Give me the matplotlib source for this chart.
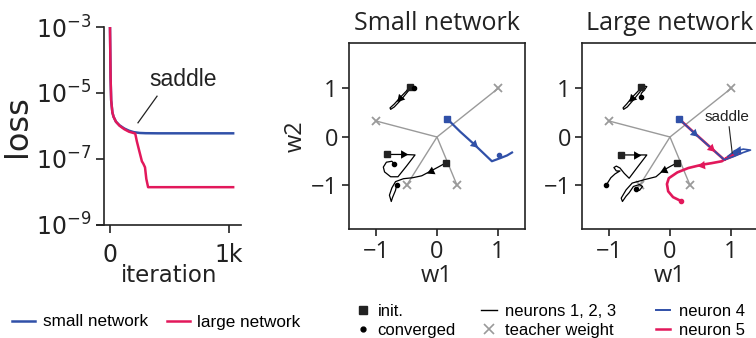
import numpy as np
import matplotlib
matplotlib.use("Agg")
import matplotlib.pyplot as plt
from matplotlib.lines import Line2D

# ---------------- data ----------------
iters_blue = [0, 5, 10, 20, 30, 50, 80, 120, 160, 200, 250, 300, 400, 600, 800, 1034]
loss_blue = [1e-3, 3e-5, 6e-6, 2.6e-6, 1.9e-6, 1.35e-6, 1.05e-6, 8.4e-7, 7.2e-7, 6.5e-7, 6.15e-7, 6.05e-7, 6.0e-7, 6.0e-7, 6.0e-7, 6.0e-7]
iters_red = [0, 5, 10, 20, 30, 50, 80, 120, 160, 200, 212, 225, 245, 268, 280, 294, 305, 320, 400, 600, 800, 1034]
loss_red = [1e-3, 3e-5, 6e-6, 2.6e-6, 1.9e-6, 1.35e-6, 1.02e-6, 8.0e-7, 6.7e-7, 6.1e-7, 5.9e-7, 3.5e-7, 1.8e-7, 8.5e-8, 7.2e-8, 5.6e-8, 2.5e-8, 1.4e-8, 1.4e-8, 1.4e-8, 1.4e-8, 1.4e-8]
loss_ticks = [1e-9, 1e-7, 1e-5, 1e-3]
loss_ticklabels = [r"$10^{-9}$", r"$10^{-7}$", r"$10^{-5}$", r"$10^{-3}$"]
iter_ticks = [0, 1000]
iter_ticklabels = ["0", "1k"]
saddle_text_loss = (613, 2.5e-5)
saddle_line_loss = [(395, 8e-6), (235, 1.25e-6)]

teacher_w1 = [1.0, -1.0, -0.5, 0.33]
teacher_w2 = [1.0, 0.33, -1.0, -1.0]
w_ticks = [-1, 0, 1]
w_ticklabels = ["\u22121", "0", "1"]

# small network trajectories
s_n1 = [(-0.45, 1.04), (-0.5, 0.95), (-0.6, 0.82), (-0.7, 0.68), (-0.77, 0.6), (-0.76, 0.57),
        (-0.7, 0.62), (-0.58, 0.78), (-0.47, 0.95), (-0.41, 1.05), (-0.37, 1.04), (-0.37, 1.01)]
s_n2 = [(-0.82, -0.36), (-0.55, -0.36), (-0.36, -0.37), (-0.5, -0.6), (-0.64, -0.82), (-0.76, -0.82),
        (-0.86, -0.72), (-0.88, -0.62), (-0.83, -0.52), (-0.74, -0.5), (-0.7, -0.56)]
s_n3 = [(0.15, -0.53), (0.02, -0.62), (-0.1, -0.7), (-0.25, -0.8), (-0.4, -0.84), (-0.55, -0.86),
        (-0.68, -0.92), (-0.74, -1.05), (-0.78, -1.2), (-0.75, -1.33), (-0.73, -1.25), (-0.68, -1.1), (-0.66, -0.98)]
s_n4 = [(0.17, 0.37), (0.38, 0.11), (0.6, -0.14), (0.9, -0.5), (1.05, -0.43), (1.15, -0.38), (1.23, -0.32)]
s_n4_end = (1.02, -0.38)

# large network trajectories
l_n1 = [(-0.47, 1.04), (-0.52, 0.95), (-0.62, 0.82), (-0.71, 0.68), (-0.77, 0.6), (-0.76, 0.57),
        (-0.7, 0.62), (-0.59, 0.78), (-0.48, 0.95), (-0.42, 1.05), (-0.38, 1.04), (-0.42, 0.97),
        (-0.47, 0.9), (-0.48, 0.83)]
l_n2 = [(-0.8, -0.37), (-0.55, -0.37), (-0.38, -0.37), (-0.52, -0.6), (-0.67, -0.85), (-0.75, -0.75),
        (-0.82, -0.64), (-0.88, -0.6), (-0.92, -0.63), (-0.88, -0.7), (-0.82, -0.7), (-0.9, -0.76),
        (-0.97, -0.84), (-1.05, -1.0)]
l_n3 = [(0.12, -0.53), (0.0, -0.61), (-0.1, -0.68), (-0.23, -0.82), (-0.42, -0.88), (-0.62, -0.95),
        (-0.72, -1.09), (-0.8, -1.26), (-0.78, -1.33), (-0.72, -1.22), (-0.67, -1.15), (-0.6, -1.02),
        (-0.5, -0.98), (-0.45, -1.02), (-0.5, -1.1), (-0.55, -1.08)]
l_n4 = [(0.15, 0.37), (0.39, 0.09), (0.89, -0.47), (1.05, -0.4), (1.2, -0.32), (1.32, -0.27),
        (1.2, -0.25), (1.05, -0.3), (0.95, -0.4)]
l_n4_end = (1.07, -0.3)
l_n5 = [(0.15, 0.37), (0.5, -0.03), (0.89, -0.47), (1.0, -0.41), (1.15, -0.33), (1.0, -0.37),
        (0.85, -0.5), (0.68, -0.54), (0.53, -0.57), (0.3, -0.64), (0.12, -0.73), (-0.02, -0.85),
        (-0.05, -0.97), (-0.03, -1.12), (0.05, -1.24), (0.18, -1.32)]
saddle_text_w = (0.93, 0.42)
saddle_line_w = [(0.97, 0.21), (1.02, -0.33)]

# arrows: position and direction
s_arrows_black = [((-0.61, 0.8), (-0.1, -0.14)), ((-0.55, -0.36), (1, 0)), ((-0.1, -0.7), (-1, -0.6))]
s_arrows_blue = [((0.6, -0.14), (1, -1.15))]
l_arrows_black = [((-0.62, 0.8), (-0.1, -0.14)), ((-0.55, -0.37), (1, 0)), ((-0.1, -0.68), (-1, -0.6))]
l_arrows_blue = [((0.39, 0.09), (1, -1.15)), ((1.12, -0.27), (-1, -0.1))]
l_arrows_red = [((0.67, -0.22), (1, -1.15)), ((0.53, -0.57), (-1, -0.2))]

BLUE = "#3050A8"
RED = "#E2185B"
GRAY = "#9A9A9A"
DARK = "#222222"

plt.rcParams["font.family"] = ["DejaVu Sans"]
plt.rcParams["mathtext.fontset"] = "dejavusans"

fig = plt.figure(figsize=(7.56, 3.38), dpi=100)
W, H = 756.0, 338.0

def fx(px):
    return px / W

def fy(py):
    return 1 - py / H

# ---------------- loss panel ----------------
ax0 = fig.add_axes([fx(97), fy(225), (241 - 97) / W, (225 - 27) / H])
ax0.plot(iters_blue, loss_blue, color=BLUE, lw=1.8)
ax0.plot(iters_red, loss_red, color=RED, lw=1.8)
ax0.set_yscale("log")
ax0.set_ylim(1e-9, 1e-3)
ax0.set_xlim(-109, 1100)
ax0.set_yticks(loss_ticks)
ax0.set_yticklabels(loss_ticklabels)
ax0.yaxis.set_minor_locator(matplotlib.ticker.NullLocator())
ax0.set_xticks(iter_ticks)
ax0.set_xticklabels(iter_ticklabels)
for s in ["top", "right"]:
    ax0.spines[s].set_visible(False)
ax0.spines["left"].set_position(("axes", 7 / 144))
for s in ["left", "bottom"]:
    ax0.spines[s].set_color(DARK)
    ax0.spines[s].set_linewidth(1.2)
ax0.tick_params(labelsize=17, length=6, width=1.2, color=DARK, labelcolor=DARK, pad=3)
ax0.tick_params(axis="x", pad=7)
ax0.set_ylabel("loss", fontsize=23, color=DARK, labelpad=2)
ax0.set_xlabel("iteration", fontsize=16.5, color=DARK, labelpad=-2)
ax0.text(saddle_text_loss[0], saddle_text_loss[1], "saddle", fontsize=16.5,
         family="Liberation Sans", color=DARK, ha="center", va="center")
ax0.plot([p[0] for p in saddle_line_loss], [p[1] for p in saddle_line_loss], color=DARK, lw=0.9)

# ---------------- weight panels ----------------
def weight_panel(rect, title, black, black_arrows, blues, blue_arrows, blue_ends,
                 reds, red_arrows, ylabel):
    ax = fig.add_axes(rect)
    ax.set_xlim(-1.443, 1.443)
    ax.set_ylim(-1.897, 1.938)
    for tx, ty in zip(teacher_w1, teacher_w2):
        ax.plot([0, tx], [0, ty], color=GRAY, lw=1.0, zorder=1)
    ax.plot(teacher_w1, teacher_w2, ls="none", marker="x", ms=5.5, mew=1.3, color=GRAY, zorder=2)
    sx = ax.bbox.width / (1.443 * 2)
    sy = ax.bbox.height / (1.938 + 1.897)

    def arrows(lst, color):
        for (p, d) in lst:
            ang = np.degrees(np.arctan2(d[1] * sy, d[0] * sx)) - 90
            ax.plot([p[0]], [p[1]], marker=(3, 0, ang), ms=7, color=color, mew=0, zorder=6)

    for r in reds:
        ax.plot([q[0] for q in r], [q[1] for q in r], color=RED, lw=1.9, zorder=3)
        ax.plot(r[-1][0], r[-1][1], "o", ms=3, color=RED, zorder=6)
    arrows(red_arrows, RED)
    for b in blues:
        ax.plot([q[0] for q in b], [q[1] for q in b], color=BLUE, lw=1.2 if reds else 1.6, zorder=4)
        ax.plot(b[0][0], b[0][1], "s", ms=4.8, color=BLUE, zorder=6)
    for e in blue_ends:
        ax.plot(e[0], e[1], "o", ms=3, color=BLUE, zorder=6)
    arrows(blue_arrows, BLUE)
    for t in black:
        ax.plot([q[0] for q in t], [q[1] for q in t], color="black", lw=0.9, zorder=5)
        ax.plot(t[0][0], t[0][1], "s", ms=4.8, color=DARK, zorder=6)
        ax.plot(t[-1][0], t[-1][1], "o", ms=3, color="black", zorder=6)
    arrows(black_arrows, "black")

    ax.set_xticks(w_ticks)
    ax.set_xticklabels(w_ticklabels)
    ax.set_yticks(w_ticks)
    ax.set_yticklabels(w_ticklabels)
    for s in ax.spines.values():
        s.set_color(DARK)
        s.set_linewidth(1.2)
    ax.tick_params(labelsize=17, length=5, width=1.2, color=DARK, labelcolor=DARK, pad=3)
    for lab in ax.get_xticklabels() + ax.get_yticklabels():
        lab.set_family("Open Sans")
    ax.set_xlabel("w1", fontsize=17, family="Open Sans", color=DARK, labelpad=0)
    if ylabel:
        ax.set_ylabel("w2", fontsize=17, family="Open Sans", color=DARK, labelpad=2)
    ax.set_title(title, fontsize=18, family="Open Sans", color=DARK, pad=9)
    return ax

weight_panel([fx(349), fy(229), 176 / W, 186 / H], "Small network",
             [s_n1, s_n2, s_n3], s_arrows_black, [s_n4], s_arrows_blue, [s_n4_end],
             [], [], True)
ax2 = weight_panel([fx(582), fy(229), 176 / W, 186 / H], "Large network",
                   [l_n1, l_n2, l_n3], l_arrows_black, [l_n4], l_arrows_blue, [l_n4_end],
                   [l_n5], l_arrows_red, False)
ax2.text(saddle_text_w[0], saddle_text_w[1], "saddle", fontsize=11, family="Liberation Sans",
         color=DARK, ha="center", va="center")
ax2.plot([p[0] for p in saddle_line_w], [p[1] for p in saddle_line_w], color=DARK, lw=0.8, zorder=7)

# ---------------- legends ----------------
leg_font = {"family": "Liberation Sans", "size": 12.3}
h1 = [Line2D([], [], color=BLUE, lw=1.8), Line2D([], [], color=RED, lw=1.8)]
fig.legend(h1, ["small network", "large network"], loc="center left",
           bbox_to_anchor=(fx(12), fy(322)), ncol=2, frameon=False, prop=leg_font,
           handlelength=1.35, handletextpad=0.45, columnspacing=1.1, borderaxespad=0, borderpad=0)

leg_font2 = {"family": "Liberation Sans", "size": 12}
hA = [Line2D([], [], ls="none", marker="s", ms=6, color=DARK),
      Line2D([], [], ls="none", marker="o", ms=3.5, color="black")]
fig.legend(hA, ["init.", "converged"], loc="upper left", bbox_to_anchor=(fx(356), fy(304)),
           frameon=False, prop=leg_font2, handlelength=0.8, handletextpad=0.5,
           labelspacing=0.25, borderaxespad=0, borderpad=0)
hB = [Line2D([], [], color="black", lw=1.0),
      Line2D([], [], ls="none", marker="x", ms=7, mew=1.2, color=GRAY)]
fig.legend(hB, ["neurons 1, 2, 3", "teacher weight"], loc="upper left",
           bbox_to_anchor=(fx(481), fy(304)), frameon=False, prop=leg_font2,
           handlelength=0.95, handletextpad=0.5, labelspacing=0.25, borderaxespad=0, borderpad=0)
hC = [Line2D([], [], color=BLUE, lw=1.4), Line2D([], [], color=RED, lw=1.8)]
fig.legend(hC, ["neuron 4", "neuron 5"], loc="upper left",
           bbox_to_anchor=(fx(656), fy(304)), frameon=False, prop=leg_font2,
           handlelength=0.85, handletextpad=0.55, labelspacing=0.25, borderaxespad=0, borderpad=0)

fig.savefig("out.png", dpi=100)
